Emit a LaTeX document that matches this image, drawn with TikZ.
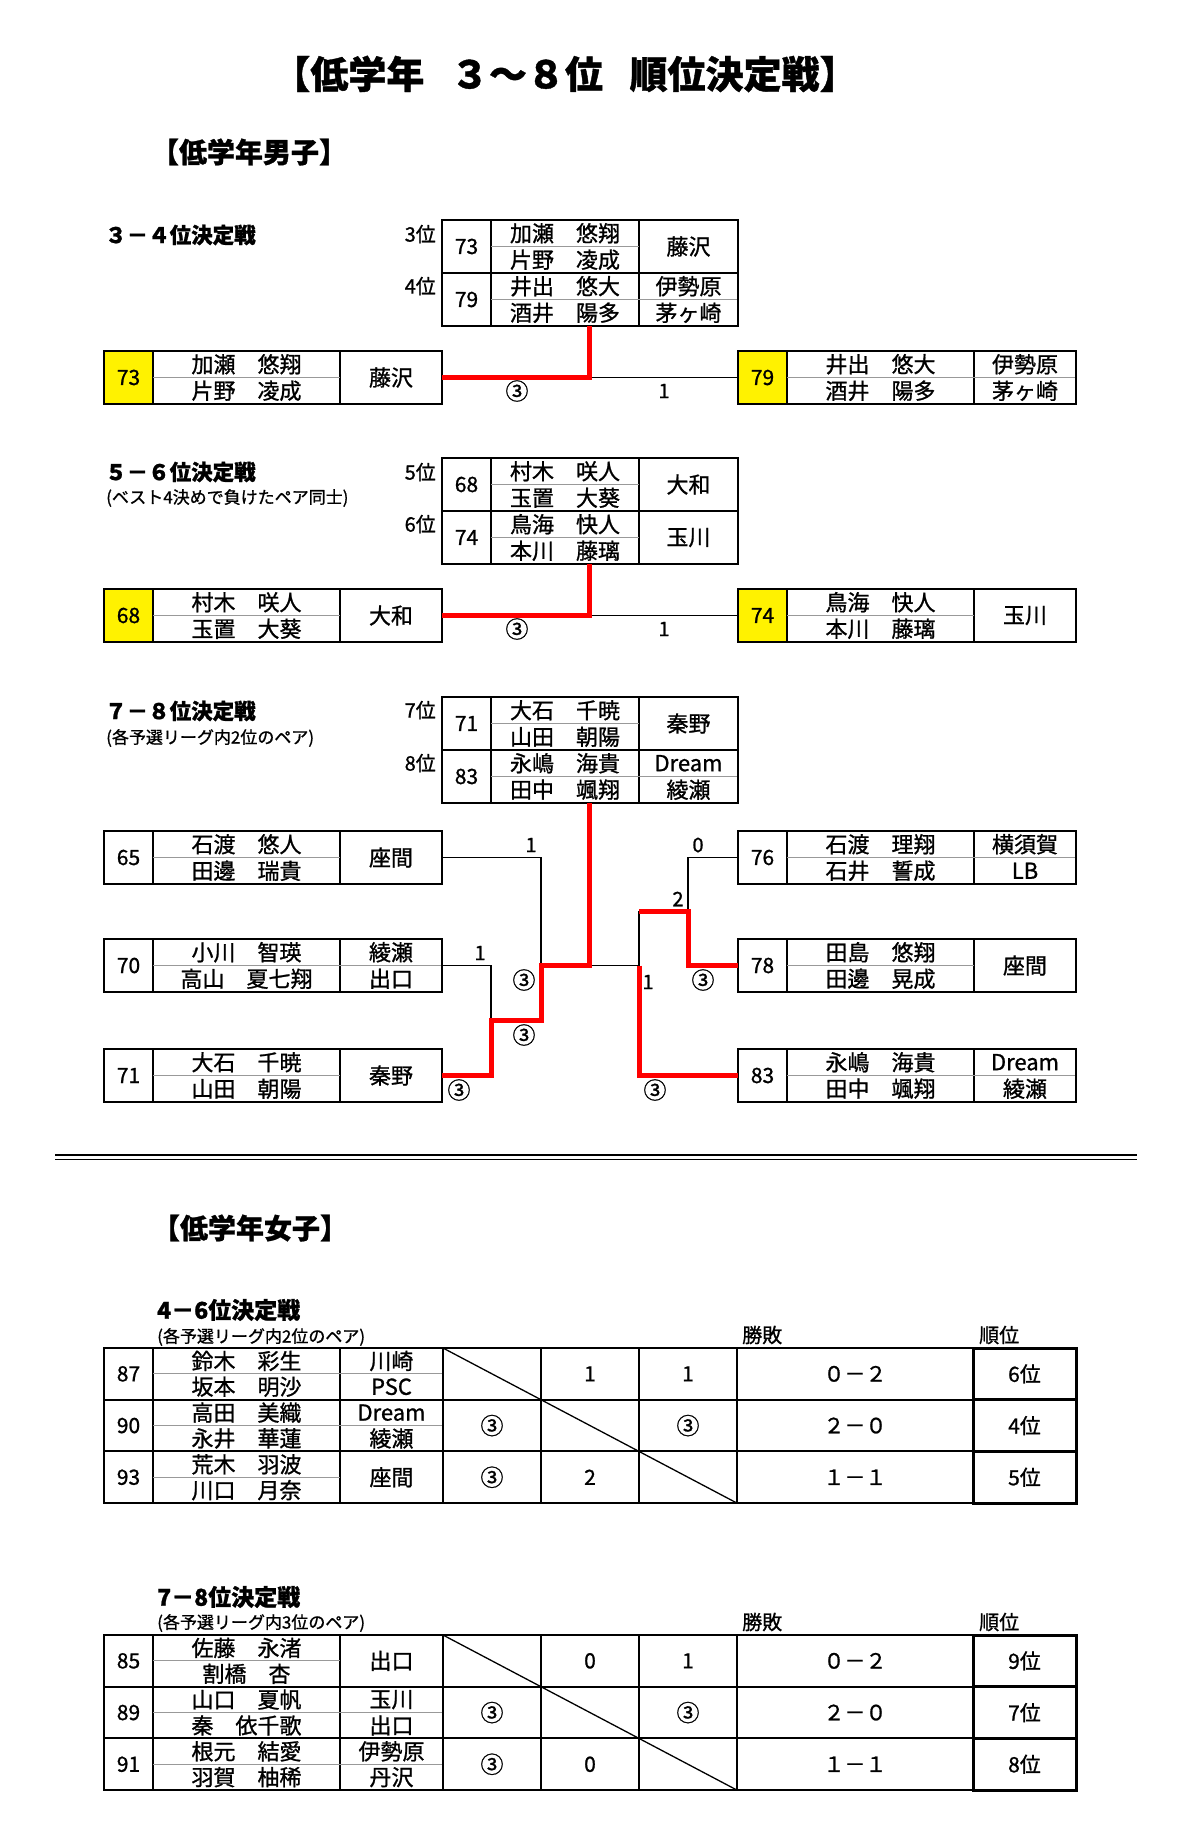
\documentclass[tikz,border=0pt]{standalone}
\usepackage{fontspec}
\setmainfont{Noto Sans CJK JP}[FakeBold=1]
\newcommand{\cellh}{53}
\newcommand{\halfh}{13.25}
\newcommand{\namew}{187}
\newcommand{\clubw}{102}
\newcommand{\topsize}{\renewcommand{\namew}{148}\renewcommand{\clubw}{99}}
\newcommand{\sidesize}{\renewcommand{\namew}{187}\renewcommand{\clubw}{102}}
\newcommand{\maru}{{\fontsize{23}{23}\selectfont ③}}
% one pair: number, two players, one or two clubs
\newcommand{\pair}[9][white]{%
  \node[cell,minimum width=49pt,fill=#1] (#2n) at (#3,#4) {#5};
  \node[cell,minimum width=\namew pt] (#2p) at (#2n.north east) {};
  \node[cell,minimum width=\clubw pt] (#2c) at (#2p.north east) {};
  \draw[rowline] (#2p.west) -- (#2p.east);
  \node[txt] at ([yshift=\halfh pt]#2p.center) {#6};
  \node[txt] at ([yshift=-\halfh pt]#2p.center) {#7};
  \if\relax\detokenize{#9}\relax
    \node[txt] at (#2c.center) {#8};
  \else
    \draw[rowline] (#2c.west) -- (#2c.east);
    \node[txt] at ([yshift=\halfh pt]#2c.center) {#8};
    \node[txt] at ([yshift=-\halfh pt]#2c.center) {#9};
  \fi
  \draw[boxline] (#2n.north west) rectangle (#2c.south east);
}
% league row: three results, won-lost, place
\newcommand{\results}[6]{%
  \node[cell,minimum width=98pt] (#1a) at (#1c.north east) {#2};
  \node[cell,minimum width=98pt] (#1b) at (#1a.north east) {#3};
  \node[cell,minimum width=98pt] (#1d) at (#1b.north east) {#4};
  \node[cell,minimum width=236pt] (#1w) at (#1d.north east) {#5};
  \node[cell,minimum width=103pt,line width=3pt] (#1r) at (#1w.north east) {#6};
  \draw[boxline] (#1n.north west) rectangle (#1w.south east);
}

\begin{document}
\begin{tikzpicture}[x=1pt,y=-1pt,
    cell/.style={draw,line width=1.2pt,minimum height=\cellh pt,inner sep=0pt,outer sep=0pt,anchor=north west,font=\fontsize{21}{21}\selectfont},
    txt/.style={inner sep=0pt,font=\fontsize{22}{22}\selectfont},
    boxline/.style={line width=2pt},
    rowline/.style={draw=black!40,line width=1pt},
    win/.style={draw=red,line width=5pt},
    lose/.style={draw=black,line width=1.3pt},
    rank/.style={anchor=east,inner sep=0pt,font=\fontsize{20}{20}\selectfont},
    head/.style={anchor=west,inner sep=0pt,font=\bfseries\fontsize{21.5}{21.5}\selectfont},
    headg/.style={anchor=west,inner sep=0pt,font=\bfseries\fontsize{23}{23}\selectfont},
    note/.style={anchor=west,inner sep=0pt,font=\fontsize{17}{17}\selectfont},
    colhead/.style={anchor=west,inner sep=0pt,font=\fontsize{20}{20}\selectfont},
    score/.style={inner sep=0pt,font=\fontsize{20}{20}\selectfont},
    circ/.style={inner sep=0pt,font=\fontsize{23}{23}\selectfont}]
\path[fill=white] (0,0) rectangle (1200,1837);
\useasboundingbox (0,0) rectangle (1200,1837);

\node[font=\bfseries\fontsize{38}{38}\selectfont] (title) at (565,74) {【低学年\hspace{0.7em}３～８位\hspace{0.7em}順位決定戦】};
\node[font=\bfseries\fontsize{28}{28}\selectfont] (boys) at (249,152) {【低学年男子】};

% 3-4
\node[head] (h34) at (105,235) {３－４位決定戦};
\node[rank] (r3) at (436,234) {3位};
\node[rank] (r4) at (436,286) {4位};
\topsize
\pair{t73}{442}{220}{73}{加瀬　悠翔}{片野　凌成}{藤沢}{}
\pair{t79}{442}{273}{79}{井出　悠大}{酒井　陽多}{伊勢原}{茅ヶ崎}
\sidesize
\pair[yellow]{a73}{104}{351}{73}{加瀬　悠翔}{片野　凌成}{藤沢}{}
\pair[yellow]{a79}{738}{351}{79}{井出　悠大}{酒井　陽多}{伊勢原}{茅ヶ崎}
\coordinate (m34) at (589,377.5);
\draw[lose] (m34) -- (a79n.west);
\draw[win] (a73c.east) -- (m34) -- (m34 |- t79n.south);
\node[circ] at (517,391) {③};
\node[score] at (664,391) {1};

% 5-6
\node[head] (h56) at (105,472) {５－６位決定戦};
\node[note] (n56) at (106,498) {(ベスト4決めで負けたペア同士)};
\node[rank] (r5) at (436,472) {5位};
\node[rank] (r6) at (436,524) {6位};
\topsize
\pair{t68}{442}{458}{68}{村木　咲人}{玉置　大葵}{大和}{}
\pair{t74}{442}{511}{74}{鳥海　快人}{本川　藤璃}{玉川}{}
\sidesize
\pair[yellow]{a68}{104}{589}{68}{村木　咲人}{玉置　大葵}{大和}{}
\pair[yellow]{a74}{738}{589}{74}{鳥海　快人}{本川　藤璃}{玉川}{}
\coordinate (m56) at (589,615.5);
\draw[lose] (m56) -- (a74n.west);
\draw[win] (a68c.east) -- (m56) -- (m56 |- t74n.south);
\node[circ] at (517,629) {③};
\node[score] at (664,629) {1};

% 7-8
\node[head] (h78) at (105,711) {７－８位決定戦};
\node[note] (n78) at (106,738) {(各予選リーグ内2位のペア)};
\node[rank] (r7) at (436,710) {7位};
\node[rank] (r8) at (436,763) {8位};
\topsize
\pair{t71}{442}{697}{71}{大石　千暁}{山田　朝陽}{秦野}{}
\pair{t83}{442}{750}{83}{永嶋　海貴}{田中　颯翔}{Dream}{綾瀬}
\sidesize
\pair{b65}{104}{831}{65}{石渡　悠人}{田邊　瑞貴}{座間}{}
\pair{b70}{104}{939}{70}{小川　智瑛}{高山　夏七翔}{綾瀬}{出口}
\pair{b71}{104}{1049}{71}{大石　千暁}{山田　朝陽}{秦野}{}
\pair{b76}{738}{831}{76}{石渡　理翔}{石井　誓成}{横須賀}{LB}
\pair{b78}{738}{939}{78}{田島　悠翔}{田邊　晃成}{座間}{}
\pair{b83}{738}{1049}{83}{永嶋　海貴}{田中　颯翔}{Dream}{綾瀬}
\coordinate (c1) at (541,965.5);
\coordinate (c2) at (491,1020.5);
\coordinate (c0) at (589,965.5);
\coordinate (c3) at (639,965.5);
\coordinate (c4) at (688,911);
\draw[lose] (b65c.east) -| (c1);
\draw[lose] (b70c.east) -| (c2);
\draw[lose] (c0) -- (c3) -- (c3 |- c4);
\draw[lose] (c4) |- (b76n.west);
\draw[win] (b71c.east) -| (c2) -| (c1) -- (c0) -- (c0 |- t83n.south);
\draw[win] (c3 |- c4) -- (c4) |- (b78n.west);
\draw[win] (c3) |- (b83n.west);
\node[score] at (531,845) {1};
\node[score] at (480,953) {1};
\node[circ] at (524,980) {③};
\node[circ] at (524,1035) {③};
\node[circ] at (459,1090) {③};
\node[score] at (698,845) {0};
\node[score] at (678,899) {2};
\node[circ] at (703,980) {③};
\node[score] at (648,982) {1};
\node[circ] at (655,1090) {③};

\draw[line width=2.5pt] (55,1155) -- (1137,1155);
\draw[line width=1.3pt] (55,1159.5) -- (1137,1159.5);

% girls
\node[font=\bfseries\fontsize{28}{28}\selectfont] (girls) at (250,1228) {【低学年女子】};
\renewcommand{\cellh}{51.7}\renewcommand{\halfh}{12.9}\renewcommand{\clubw}{103}

% 4-6
\node[headg] (g46) at (157,1310) {4－6位決定戦};
\node[note] (gn46) at (157,1337) {(各予選リーグ内2位のペア)};
\node[colhead] (wl46) at (742,1335) {勝敗};
\node[colhead] (pl46) at (979,1335) {順位};
\pair{g87}{104}{1348}{87}{鈴木　彩生}{坂本　明沙}{川崎}{PSC}
\results{g87}{}{1}{1}{０－２}{6位}
\pair{g90}{104}{1399.7}{90}{高田　美織}{永井　華蓮}{Dream}{綾瀬}
\results{g90}{\maru}{}{\maru}{２－０}{4位}
\pair{g93}{104}{1451.4}{93}{荒木　羽波}{川口　月奈}{座間}{}
\results{g93}{\maru}{2}{}{１－１}{5位}
\draw[lose] (g87a.north west) -- (g87a.south east);
\draw[lose] (g90b.north west) -- (g90b.south east);
\draw[lose] (g93d.north west) -- (g93d.south east);

% 7-8
\node[headg] (g78) at (157,1597) {7－8位決定戦};
\node[note] (gn78) at (157,1623) {(各予選リーグ内3位のペア)};
\node[colhead] (wl78) at (742,1622) {勝敗};
\node[colhead] (pl78) at (979,1622) {順位};
\pair{g85}{104}{1635}{85}{佐藤　永渚}{割橋　杏}{出口}{}
\results{g85}{}{0}{1}{０－２}{9位}
\pair{g89}{104}{1686.7}{89}{山口　夏帆}{秦　依千歌}{玉川}{出口}
\results{g89}{\maru}{}{\maru}{２－０}{7位}
\pair{g91}{104}{1738.4}{91}{根元　結愛}{羽賀　柚稀}{伊勢原}{丹沢}
\results{g91}{\maru}{0}{}{１－１}{8位}
\draw[lose] (g85a.north west) -- (g85a.south east);
\draw[lose] (g89b.north west) -- (g89b.south east);
\draw[lose] (g91d.north west) -- (g91d.south east);
\end{tikzpicture}
\end{document}
